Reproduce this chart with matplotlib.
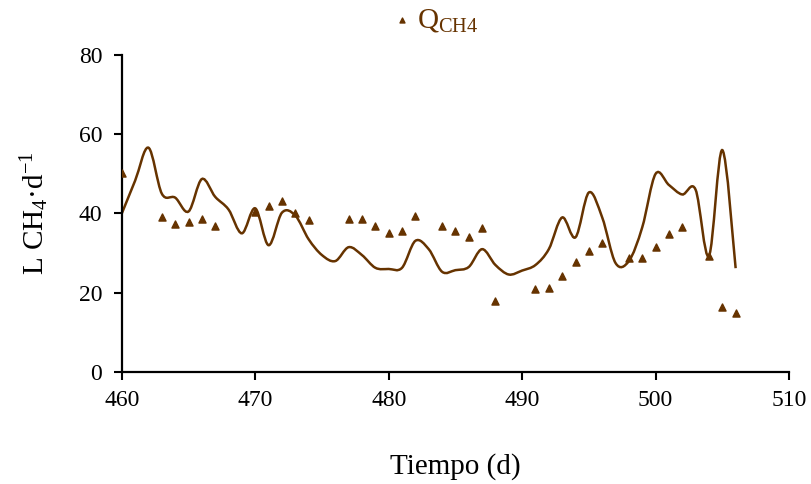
import matplotlib
matplotlib.use("Agg")
import matplotlib.pyplot as plt
import numpy as np
from matplotlib.path import Path
from matplotlib.patches import PathPatch

# Measured methane production (scatter)
q_days = [460, 463, 464, 465, 466, 467, 470, 471, 472, 473, 474, 477, 478, 479,
          480, 481, 482, 484, 485, 486, 487, 488, 491, 492, 493, 494, 495, 496,
          498, 499, 500, 501, 502, 504, 505, 506]
q_ch4 = [50.3, 39.1, 37.3, 37.9, 38.6, 36.8, 40.4, 41.9, 43.2, 40.1, 38.4, 38.5,
         38.6, 36.8, 35.1, 35.5, 39.3, 36.8, 35.6, 34.1, 36.3, 17.9, 20.9, 21.1,
         24.2, 27.8, 30.5, 32.6, 28.8, 28.8, 31.5, 34.8, 36.6, 29.3, 16.4, 14.9]

# Daily trend values (smoothed line)
trend_days = list(range(460, 507))
trend_vals = [40.0, 48.3, 56.6, 45.0, 44.0, 40.5, 48.7, 44.2, 41.0, 35.0,
              41.3, 32.0, 40.2, 39.5, 33.5, 29.5, 28.0, 31.5, 29.5, 26.3,
              26.0, 26.3, 33.1, 31.0, 25.3, 25.7, 26.5, 31.0, 27.0, 24.6,
              25.6, 27.0, 31.0, 39.0, 34.0, 45.3, 39.0, 27.5, 28.0, 36.5,
              50.0, 47.2, 44.8, 46.0, 29.3, 56.0, 26.2]

x_ticks = [460, 470, 480, 490, 500, 510]
y_ticks = [0, 20, 40, 60, 80]

brown = "#663300"
serif = ["Liberation Serif", "DejaVu Serif"]
plt.rcParams["font.family"] = serif
plt.rcParams["mathtext.fontset"] = "custom"
plt.rcParams["mathtext.rm"] = "Liberation Serif"
plt.rcParams["mathtext.it"] = "Liberation Serif"


def smooth_path(xs, ys, tension=1.0 / 6.0):
    """Cubic Bezier path through the points (Catmull-Rom style smoothing)."""
    pts = np.column_stack([xs, ys]).astype(float)
    n = len(pts)
    verts = [pts[0]]
    codes = [Path.MOVETO]
    for i in range(n - 1):
        p_prev = pts[i - 1] if i > 0 else pts[i]
        p0 = pts[i]
        p1 = pts[i + 1]
        p_next = pts[i + 2] if i + 2 < n else pts[i + 1]
        c1 = p0 + (p1 - p_prev) * tension
        c2 = p1 - (p_next - p0) * tension
        verts.extend([c1, c2, p1])
        codes.extend([Path.CURVE4] * 3)
    return Path(verts, codes)


fig = plt.figure(figsize=(8.12, 4.84), dpi=100)
ax = fig.add_axes([0.150, 0.2314, 0.8217, 0.655])

ax.add_patch(PathPatch(smooth_path(trend_days, trend_vals), fill=False,
                       edgecolor=brown, lw=1.8, zorder=2))
ax.scatter(q_days, q_ch4, marker="^", s=26, color=brown, zorder=3,
           label=r"Q$_\mathregular{CH4}$")

ax.set_xlim(460, 510)
ax.set_ylim(0, 80)
ax.set_xticks(x_ticks)
ax.set_yticks(y_ticks)
ax.tick_params(axis="both", labelsize=17, length=6, width=1.5,
               direction="out", colors="black")
ax.tick_params(axis="x", pad=7)
ax.tick_params(axis="y", pad=8)
for side in ("top", "right"):
    ax.spines[side].set_visible(False)
for side in ("left", "bottom"):
    ax.spines[side].set_linewidth(1.6)

ax.set_xlabel("Tiempo (d)", fontsize=21, labelpad=30)
ax.set_ylabel(r"L CH$_\mathregular{4}$·d$^\mathregular{-1}$", fontsize=21,
              labelpad=20)

fig.legend(loc="upper center", bbox_to_anchor=(0.533, 1.04), frameon=False,
           fontsize=21, handletextpad=0.0, handlelength=1.0, markerscale=0.7,
           labelcolor=brown)

fig.savefig("out.png", dpi=100)
